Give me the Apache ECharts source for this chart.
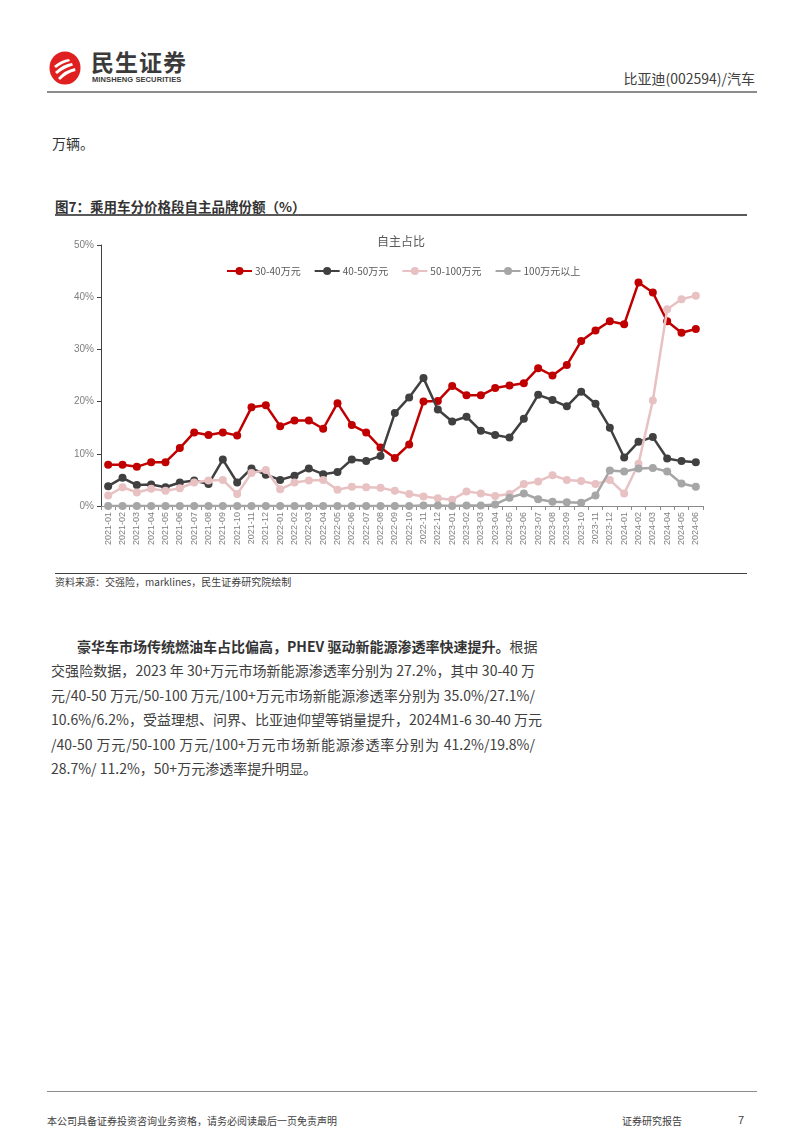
<!DOCTYPE html>
<html><head><meta charset="utf-8">
<script src="https://cdn.jsdelivr.net/npm/echarts@6/dist/echarts.min.js"></script>
<style>
html,body{margin:0;padding:0;background:#fff;}
body{width:802px;height:1133px;position:relative;overflow:hidden;font-family:"Liberation Sans","Noto Sans CJK SC",sans-serif;color:#333;}
.abs{position:absolute;white-space:nowrap;}
.hl{position:absolute;height:0;}
.para{position:absolute;left:51px;width:484px;font-size:14px;line-height:20px;color:#404040;font-family:"Noto Sans CJK SC",sans-serif;white-space:nowrap;}
.j{text-align:justify;text-align-last:justify;}
</style></head>
<body>
<!-- header -->
<svg class="abs" style="left:48px;top:50px" width="34" height="36" viewBox="0 0 34 36">
  <ellipse cx="17" cy="18" rx="15.5" ry="16.5" fill="#E02020"/>
  <path d="M6 16 Q13 10 21 9 L22 11 Q14 13 8 18 Z" fill="#fff"/>
  <path d="M7 22 Q15 14 24 13 L25 15.5 Q16 18 9 24 Z" fill="#fff"/>
  <path d="M10 28 Q17 20 27 18 L27.5 21 Q19 23 12 30 Z" fill="#fff"/>
</svg>
<div class="abs" style="left:91px;top:47px;font-size:23px;font-weight:bold;color:#3a3a3a;font-family:'Noto Sans CJK SC';letter-spacing:1px;line-height:28px">民生证券</div>
<div class="abs" style="left:92px;top:75px;font-size:7.5px;font-weight:bold;color:#3a3a3a;line-height:9px;letter-spacing:0.1px">MINSHENG SECURITIES</div>
<div class="abs" style="right:47px;top:68px;font-size:14px;color:#404040;font-family:'Noto Sans CJK SC';line-height:20px">比亚迪(002594)/汽车</div>
<div class="hl" style="left:47px;top:91px;width:710px;border-top:2px solid #8c8c8c"></div>

<div class="abs" style="left:52px;top:133px;font-size:14px;color:#333;font-family:'Noto Sans CJK SC';line-height:20px">万辆。</div>

<div class="abs" style="left:55px;top:197px;font-size:13.5px;font-weight:bold;color:#333;font-family:'Noto Sans CJK SC';line-height:19px">图7：乘用车分价格段自主品牌份额（%）</div>
<div class="hl" style="left:55px;top:214px;width:692px;border-top:2px solid #595959"></div>

<div id="chart" style="position:absolute;left:0;top:220px;width:802px;height:350px"></div>

<div class="hl" style="left:55px;top:573px;width:692px;border-top:1px solid #404040"></div>
<div class="abs" style="left:55px;top:575px;font-size:10px;color:#404040;font-family:'Noto Sans CJK SC';line-height:14px">资料来源：交强险，marklines，民生证券研究院绘制</div>

<div class="para j" style="top:636px;padding-left:26px;width:458px"><b style="color:#333">豪华车市场传统燃油车占比偏高，PHEV 驱动新能源渗透率快速提升。</b>根据</div>
<div class="para j" style="top:660px">交强险数据，2023 年 30+万元市场新能源渗透率分别为 27.2%，其中 30-40 万</div>
<div class="para j" style="top:685px">元/40-50 万元/50-100 万元/100+万元市场新能源渗透率分别为 35.0%/27.1%/</div>
<div class="para j" style="top:709px">10.6%/6.2%，受益理想、问界、比亚迪仰望等销量提升，2024M1-6 30-40 万元</div>
<div class="para j" style="top:734px">/40-50 万元/50-100 万元/100+万元市场新能源渗透率分别为 41.2%/19.8%/</div>
<div class="para" style="top:758px">28.7%/ 11.2%，50+万元渗透率提升明显。</div>

<!-- footer -->
<div class="hl" style="left:47px;top:1091px;width:710px;border-top:1px solid #8c8c8c"></div>
<div class="abs" style="left:47px;top:1114px;font-size:10px;color:#404040;font-family:'Noto Sans CJK SC';line-height:14px">本公司具备证券投资咨询业务资格，请务必阅读最后一页免责声明</div>
<div class="abs" style="left:622px;top:1114px;font-size:10px;color:#404040;font-family:'Noto Sans CJK SC';line-height:14px">证券研究报告</div>
<div class="abs" style="left:738px;top:1113px;font-size:11px;color:#404040;line-height:14px">7</div>

<script>
const categories = ['2021-01','2021-02','2021-03','2021-04','2021-05','2021-06','2021-07','2021-08','2021-09','2021-10','2021-11','2021-12',
 '2022-01','2022-02','2022-03','2022-04','2022-05','2022-06','2022-07','2022-08','2022-09','2022-10','2022-11','2022-12',
 '2023-01','2023-02','2023-03','2023-04','2023-05','2023-06','2023-07','2023-08','2023-09','2023-10','2023-11','2023-12',
 '2024-01','2024-02','2024-03','2024-04','2024-05','2024-06'];
const seriesNames = ['30-40万元','40-50万元','50-100万元','100万元以上'];
const s3040 = [7.9,7.9,7.5,8.4,8.4,11.1,14.1,13.6,14.1,13.5,18.9,19.3,
 15.3,16.4,16.4,14.8,19.7,15.5,14.1,11.2,9.2,11.8,20.0,20.1,
 23.0,21.2,21.2,22.6,23.1,23.5,26.4,25.0,27.0,31.6,33.6,35.4,
 34.8,42.8,40.9,35.4,33.2,33.9];
const s4050 = [3.8,5.4,4.0,4.1,3.6,4.5,4.9,4.2,8.9,4.5,7.2,6.0,
 5.0,5.8,7.2,6.1,6.5,8.9,8.6,9.6,17.8,20.8,24.5,18.5,
 16.2,17.1,14.4,13.6,13.1,16.7,21.3,20.3,19.1,21.9,19.6,15.0,
 9.3,12.3,13.2,9.1,8.6,8.4];
const s50100 = [2.0,3.6,2.6,3.3,2.9,3.4,4.5,4.9,5.0,2.3,6.3,6.9,
 3.2,4.5,4.9,5.0,3.1,3.7,3.6,3.5,2.9,2.3,1.8,1.5,
 1.2,2.8,2.4,1.9,2.3,4.2,4.7,5.9,5.0,4.8,4.2,5.0,
 2.4,8.1,20.2,37.7,39.6,40.3];
const s100 = [0,0,0,0,0,0,0,0,0,0,0,0,
 0,0,0,0,0,0,0,0,0,0,0.1,0.1,
 0,0.1,0.1,0.3,1.6,2.4,1.3,0.8,0.7,0.6,2.0,6.8,
 6.6,7.2,7.3,6.6,4.3,3.7];
const yTicks = {min:0, max:50, interval:10};
const colors = ['#C00000','#404040','#E8C1C2','#A6A6A6'];

const chart = echarts.init(document.getElementById('chart'), null, {renderer:'canvas'});
const allData = [s3040, s4050, s50100, s100];
chart.setOption({
  animation:false,
  textStyle:{fontFamily:'"Liberation Sans","Noto Sans CJK SC",sans-serif'},
  title:{text:'自主占比', left:372, top:10, textStyle:{fontSize:12, fontWeight:'normal', color:'#595959', fontFamily:'"Noto Sans CJK SC",sans-serif'}},
  legend:{left:221, top:41, itemWidth:25, itemHeight:10, itemGap:13,
    textStyle:{fontSize:10, color:'#595959', fontFamily:'"Noto Sans CJK SC",sans-serif', padding:[0,0,0,-2]},
    data:seriesNames},
  grid:{left:101, right:99, top:25, bottom:64, containLabel:false},
  xAxis:{type:'category', data:categories, boundaryGap:true,
    axisLine:{lineStyle:{color:'#8c8c8c', width:1}},
    axisTick:{show:true, alignWithLabel:false, length:4, lineStyle:{color:'#8c8c8c'}},
    axisLabel:{rotate:90, interval:0, fontSize:9, color:'#7f7f7f', margin:6}},
  yAxis:{type:'value', min:yTicks.min, max:yTicks.max, interval:yTicks.interval,
    axisLine:{show:true, lineStyle:{color:'#404040', width:1}},
    axisTick:{show:true, length:4, lineStyle:{color:'#404040'}},
    splitLine:{show:false},
    axisLabel:{formatter:'{value}%', fontSize:10, color:'#7f7f7f', margin:7}},
  series: allData.map((d,i)=>({
    name:seriesNames[i], type:'line', data:d, symbol:'circle', symbolSize:8,
    lineStyle:{width:2.5, color:colors[i]}, itemStyle:{color:colors[i]},
    z: 2+i
  }))
});
</script>
</body></html>
